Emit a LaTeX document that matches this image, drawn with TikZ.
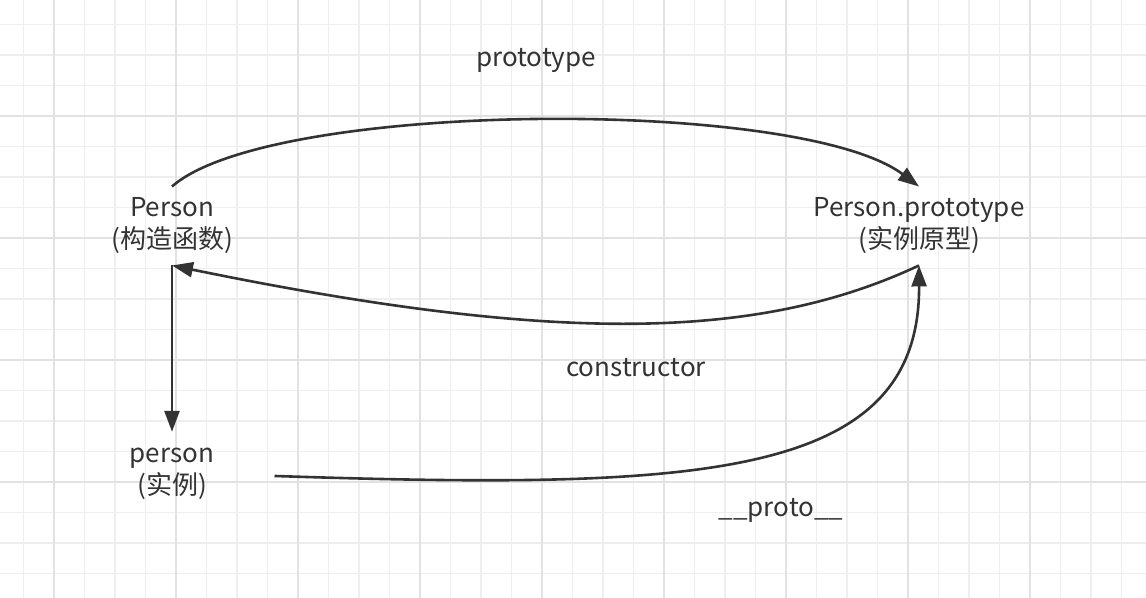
\documentclass[tikz,border=0pt]{standalone}
\usepackage{fontspec}
\setmainfont{Noto Sans CJK SC}
\usetikzlibrary{arrows.meta}
\definecolor{ink}{HTML}{333333}
\definecolor{gridminor}{HTML}{EEEEEE}
\definecolor{gridmajor}{HTML}{E2E2E2}

\begin{document}
\begin{tikzpicture}[x=0.5pt,y=-0.5pt,
	lbl/.style={text=ink,font=\fontsize{13}{16}\selectfont,align=center,inner xsep=0pt,inner ysep=5.5pt},
	link/.style={draw=ink,line width=1.3pt,-{Triangle[length=10.5pt,width=7.5pt]}}]
	\fill[white] (0,0) rectangle (1146,598);
	\useasboundingbox (0,0) rectangle (1146,598);
	\begin{scope}
		\clip (0,0) rectangle (1146,598);
		% grid
		\foreach \k in {-1,...,37}
		\draw[gridminor,line width=0.75pt] (54+30.5*\k,0) -- (54+30.5*\k,598);
		\foreach \k in {-4,...,16}
		\draw[gridminor,line width=0.75pt] (0,116+30.5*\k) -- (1146,116+30.5*\k);
		\foreach \k in {0,...,9}
		\draw[gridmajor,line width=1pt] (54+122*\k,0) -- (54+122*\k,598);
		\foreach \k in {-1,...,4}
		\draw[gridmajor,line width=1pt] (0,116+122*\k) -- (1146,116+122*\k);
	\end{scope}

	\node[lbl] (ctor) at (172,226) {Person\\(构造函数)};
	\node[lbl] (pproto) at (919,226) {Person.prototype\\(实例原型)};
	\node[lbl,inner ysep=8pt] (inst) at (172,474) {person\\(实例)};
	\node[lbl] (protolbl) at (536,60) {prototype};
	\node[lbl] (ctorlbl) at (636,368) {constructor};
	\node[lbl] (dunderlbl) at (781,510) {\_\_proto\_\_};

	\draw[link] (ctor.north) .. controls (270,100) and (800,97) .. (pproto.north);
	\draw[link] (pproto.south) .. controls (760,340) and (560,345) .. (ctor.south);
	\draw[link] (ctor.south) -- (inst.north);
	\draw[link,shorten <=30pt] (inst.east) .. controls (700,490) and (920,480) .. (pproto.south);

\end{tikzpicture}
\end{document}
